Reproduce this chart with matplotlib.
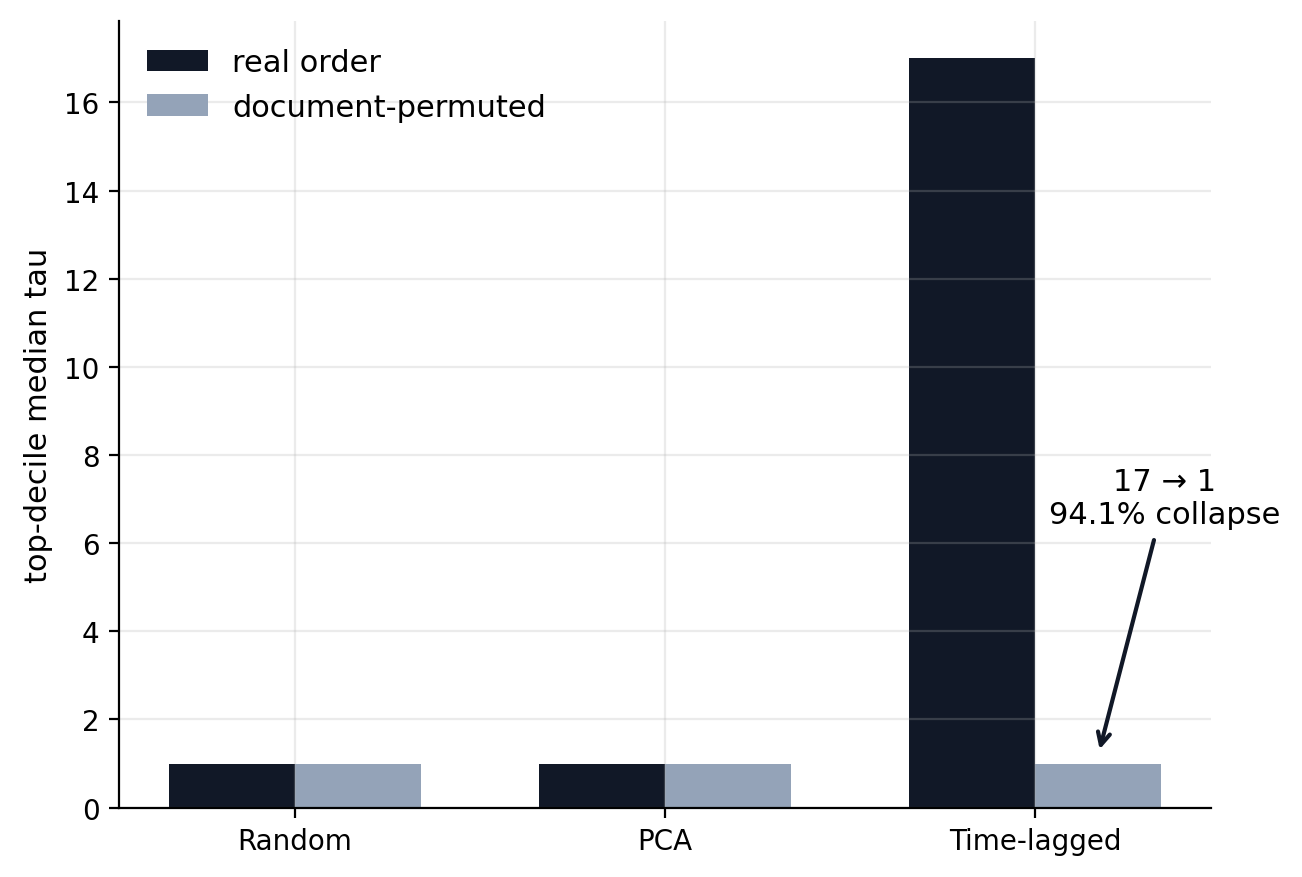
import numpy as np
import matplotlib.pyplot as plt

metodos = ['Random', 'PCA', 'Time-lagged']
real_order = [1, 1, 17]
permutado = [1, 1, 1]

cor_real = '#111827'
cor_perm = '#94a3b8'

fig, ax = plt.subplots(figsize=(6.51, 4.39), dpi=200)
x = np.arange(len(metodos))
w = 0.34

ax.bar(x - w / 2, real_order, w, color=cor_real, label='real order')
ax.bar(x + w / 2, permutado, w, color=cor_perm, label='document-permuted')

ax.set_xticks(x)
ax.set_xticklabels(metodos)
ax.set_ylabel('top-decile median tau', fontsize=11)
ax.grid(True, alpha=0.25)
ax.spines['top'].set_visible(False)
ax.spines['right'].set_visible(False)
ax.legend(frameon=False, loc='upper left', fontsize=11)

# seta indicando o colapso
ax.annotate('17 → 1\n94.1% collapse',
            xy=(2 + w / 2, permutado[2] + 0.2),
            xytext=(2.35, 6.32),
            ha='center', va='bottom', fontsize=11,
            arrowprops=dict(arrowstyle='->', color=cor_real, lw=1.5))

fig.subplots_adjust(left=0.0915, right=0.93, bottom=0.079, top=0.975)
fig.savefig('out.png', dpi=200)
